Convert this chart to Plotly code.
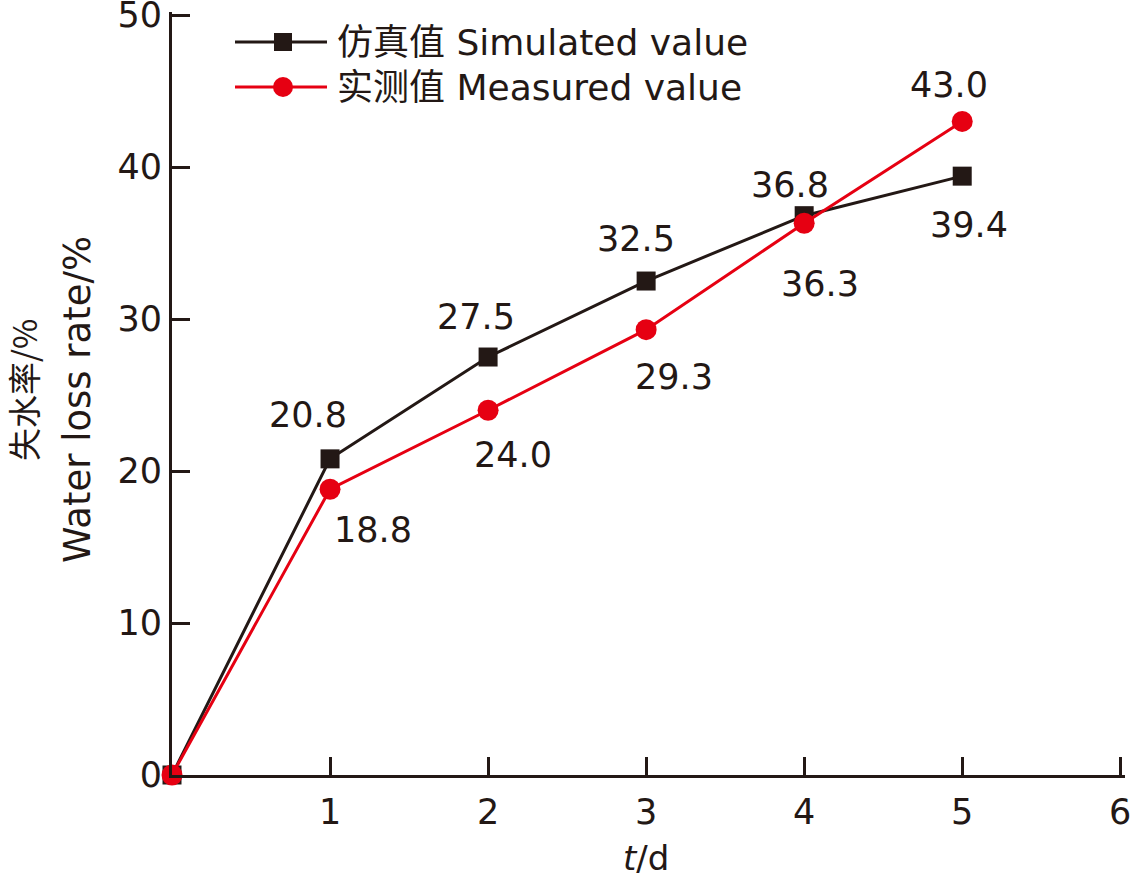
import plotly.graph_objects as go

days = [0, 1, 2, 3, 4, 5]
simulated = [0, 20.8, 27.5, 32.5, 36.8, 39.4]
measured = [0, 18.8, 24.0, 29.3, 36.3, 43.0]
x_ticks = [1, 2, 3, 4, 5, 6]
y_ticks = [0, 10, 20, 30, 40, 50]
sim_name = "仿真值 Simulated value"
mea_name = "实测值 Measured value"

BLACK = "#231815"
RED = "#E60012"
FONT = "DejaVu Sans, Noto Sans CJK SC, sans-serif"
CJK = "Noto Sans CJK SC, DejaVu Sans"
W, H = 1134, 877
ML, MR, MT, MB = 172, 9, 12, 102
PW, PH = W - ML - MR, H - MT - MB


def px(xp):
    return (xp - ML) / PW


def py(yp):
    return (H - MB - yp) / PH


fig = go.Figure()
fig.add_trace(go.Scatter(x=days, y=simulated, mode="lines+markers", name=sim_name,
                         line=dict(color=BLACK, width=3),
                         marker=dict(symbol="square", size=19, color=BLACK),
                         cliponaxis=False, showlegend=False))
fig.add_trace(go.Scatter(x=days, y=measured, mode="lines+markers", name=mea_name,
                         line=dict(color=RED, width=3),
                         marker=dict(symbol="circle", size=21, color=RED),
                         cliponaxis=False, showlegend=False))

# data labels (offsets in pixels)
sim_off = [None, (-22, 44), (-12, 40), (-10, 42), (-14, 31), (7, -49)]
mea_off = [None, (43, -41), (25, -45), (28, -47), (16, -61), (-13, 36)]
annotations = []
for xs, vals, offs in ((days, simulated, sim_off), (days, measured, mea_off)):
    for xv, v, o in zip(xs, vals, offs):
        if o is None:
            continue
        annotations.append(dict(x=xv, y=v, xref="x", yref="y", text=f"{v:.1f}",
                                showarrow=False, xshift=o[0], yshift=o[1],
                                xanchor="center", yanchor="middle",
                                font=dict(family=FONT, size=35, color=BLACK)))

# y-axis title (two lines)
annotations.append(dict(x=px(23), y=py(390), xref="paper", yref="paper", text="失水率/%",
                        textangle=-90, showarrow=False, xanchor="center", yanchor="middle",
                        font=dict(family=CJK, size=33, color=BLACK)))
annotations.append(dict(x=px(78), y=py(400), xref="paper", yref="paper", text="Water loss rate/%",
                        textangle=-90, showarrow=False, xanchor="center", yanchor="middle",
                        font=dict(family=FONT, size=37, color=BLACK)))
# x-axis title
annotations.append(dict(x=3, y=py(858), xref="x", yref="paper", text="<i>t</i>/d",
                        showarrow=False, xanchor="center", yanchor="middle",
                        font=dict(family=FONT, size=34, color=BLACK)))

# custom legend
shapes = []
for row_y, col, name, sym in ((42, BLACK, sim_name, "square"), (87, RED, mea_name, "circle")):
    shapes.append(dict(type="line", xref="paper", yref="paper",
                       x0=px(235), x1=px(327), y0=py(row_y), y1=py(row_y),
                       line=dict(color=col, width=3)))
    if sym == "square":
        shapes.append(dict(type="rect", xref="paper", yref="paper",
                           x0=px(274), x1=px(292), y0=py(row_y + 9), y1=py(row_y - 9),
                           fillcolor=col, line=dict(width=0)))
    else:
        shapes.append(dict(type="circle", xref="paper", yref="paper",
                           x0=px(273), x1=px(293), y0=py(row_y + 10), y1=py(row_y - 10),
                           fillcolor=col, line=dict(width=0)))
    annotations.append(dict(x=px(335), y=py(row_y), xref="paper", yref="paper",
                            xanchor="left", yanchor="middle", text=name, showarrow=False,
                            font=dict(family=FONT, size=36, color=BLACK)))

fig.update_layout(
    width=W, height=H, autosize=False,
    margin=dict(l=ML, r=MR, t=MT, b=MB, pad=0, autoexpand=False),
    paper_bgcolor="white", plot_bgcolor="white",
    annotations=annotations, shapes=shapes,
    xaxis=dict(range=[0, 6.03], tickvals=x_ticks, ticktext=[str(t) for t in x_ticks],
               automargin=False, ticklabeloverflow="allow",
               showgrid=False, zeroline=False, showline=True, linecolor=BLACK, linewidth=3,
               ticks="inside", ticklen=18, tickwidth=3, tickcolor=BLACK,
               ticklabelstandoff=4,
               tickfont=dict(family=FONT, size=35, color=BLACK)),
    yaxis=dict(range=[0, 50.2], tickvals=y_ticks, ticktext=[str(t) for t in y_ticks],
               automargin=False, ticklabeloverflow="allow",
               showgrid=False, zeroline=False, showline=True, linecolor=BLACK, linewidth=3,
               ticks="inside", ticklen=18, tickwidth=3, tickcolor=BLACK,
               ticklabelstandoff=0,
               tickfont=dict(family=FONT, size=35, color=BLACK)),
)

fig.write_html("out.html", config={"displayModeBar": False},
               post_script="document.body.style.margin='0';")
